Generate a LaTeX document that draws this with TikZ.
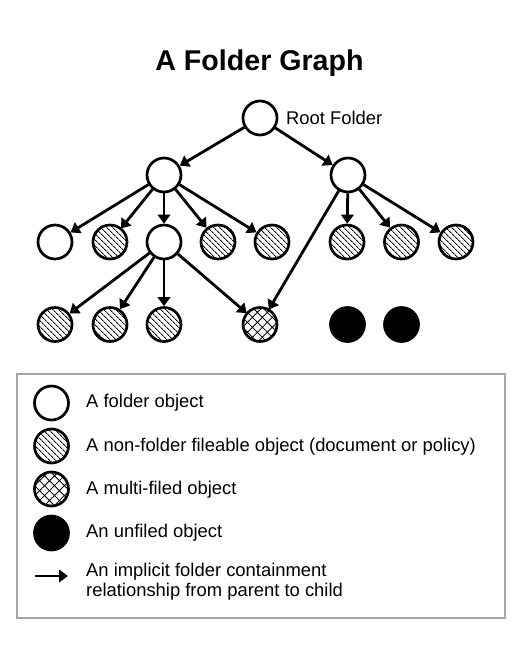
\documentclass[tikz,border=0pt]{standalone}
\usepackage{fontspec}
\setmainfont{Liberation Sans}
\usetikzlibrary{arrows.meta,patterns.meta}

\begin{document}
\begin{tikzpicture}[x=1pt, y=-1pt,
	obj/.style={circle, draw, line width=2.7pt, minimum size=34pt, inner sep=0pt},
	folder/.style={obj, fill=white},
	fileable/.style={obj, pattern={Lines[angle=-45, distance=4pt, line width=0.9pt]}},
	multi/.style={obj, pattern={Hatch[angle=45, distance=7pt, line width=0.8pt]}},
	unfiled/.style={obj, fill=black},
	contains/.style={line width=2.8pt, -{Triangle[length=9pt, width=12.5pt]}},
	lbl/.style={anchor=west, inner sep=0pt, font=\fontsize{18.4}{20}\selectfont}]
	\useasboundingbox (0,0) rectangle (519,649);
	\node (title) at (259.5,63) {\fontsize{28.6}{32}\selectfont\bfseries A Folder Graph};
	% the tree
	\node[folder] (root) at (260,118) {};
	\node[lbl] (rootlbl) at (286,118) {Root Folder};
	\node[folder] (fa) at (164,175) {};
	\node[folder] (fb) at (348,175) {};
	\node[folder] (a1) at (55,242) {};
	\node[fileable] (a2) at (110,242) {};
	\node[folder] (fc) at (164,242) {};
	\node[fileable] (a4) at (218,242) {};
	\node[fileable] (a5) at (272,242) {};
	\node[fileable] (b1) at (347,242) {};
	\node[fileable] (b2) at (401.5,242) {};
	\node[fileable] (b3) at (456,242) {};
	\node[fileable] (c1) at (55,324.5) {};
	\node[fileable] (c2) at (110,324.5) {};
	\node[fileable] (c3) at (164,324.5) {};
	\node[multi] (m1) at (260,324.5) {};
	\node[unfiled] (u1) at (347.5,324.5) {};
	\node[unfiled] (u2) at (401.5,324.5) {};
	\draw[contains] (root) -- (fa);
	\draw[contains] (root) -- (fb);
	\foreach \kid in {a1,a2,fc,a4,a5}
		\draw[contains] (fa) -- (\kid);
	\foreach \kid in {b1,b2,b3,m1}
		\draw[contains] (fb) -- (\kid);
	\foreach \kid in {c1,c2,c3,m1}
		\draw[contains] (fc) -- (\kid);
	% the legend
	\draw[line width=1.2pt, gray!70] (17,374) rectangle (505,618);
	\node[folder] (kfolder) at (51.5,403) {};
	\node[fileable] (kfile) at (51.5,446) {};
	\node[multi] (kmulti) at (51.5,489) {};
	\node[unfiled] (kunfiled) at (51.5,533) {};
	\coordinate (karrowa) at (35,576);
	\coordinate (karrowb) at (68,576);
	\draw[contains] (karrowa) -- (karrowb);
	\node[lbl] at (86,403) {A folder object};
	\node[lbl] at (86,446.5) {A non-folder fileable object (document or policy)};
	\node[lbl] at (86,489.5) {A multi-filed object};
	\node[lbl] at (86,533) {An unfiled object};
	\node[lbl, align=left] at (86,582) {An implicit folder containment\\relationship from parent to child};
\end{tikzpicture}
\end{document}
